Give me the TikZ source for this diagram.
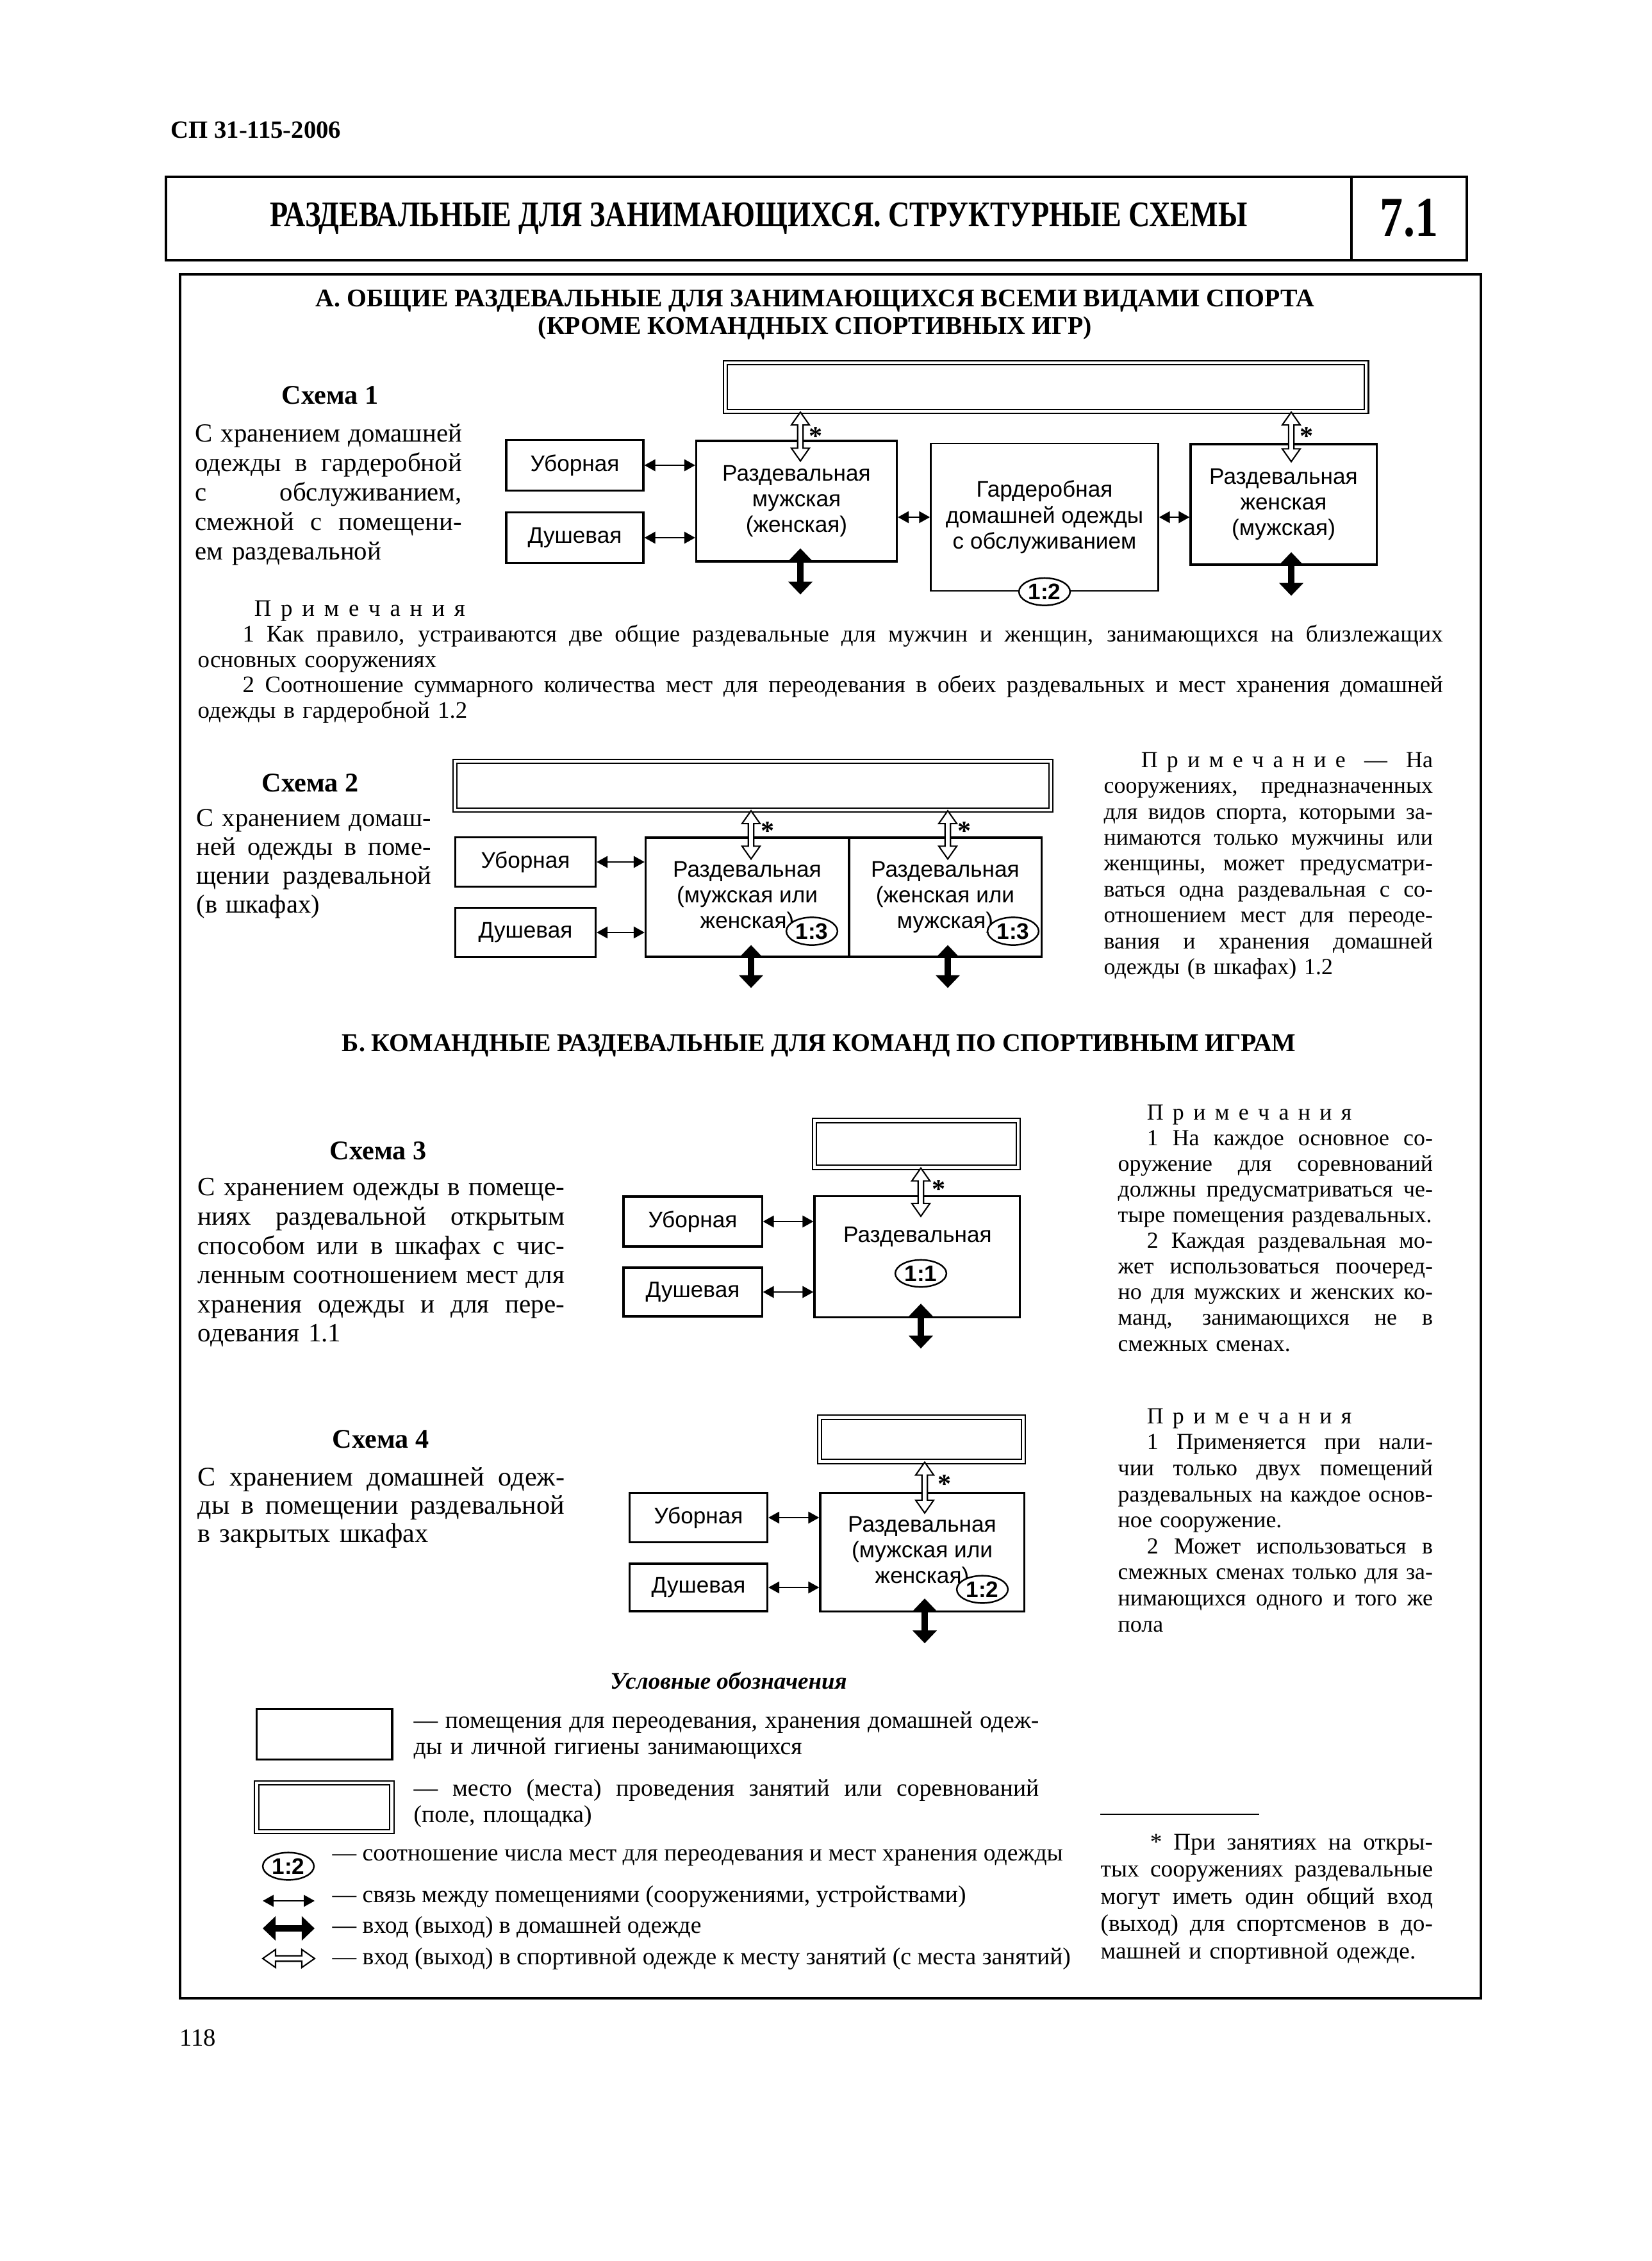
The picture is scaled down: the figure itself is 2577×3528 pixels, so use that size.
\documentclass[tikz,border=0pt]{standalone}
\usepackage{fontspec}
\setmainfont{Liberation Serif}
\newfontfamily\boxfont{Liberation Sans}
\newfontfamily\headfont[FakeStretch=0.82]{Liberation Serif}
\usetikzlibrary{arrows.meta,calc,shapes.geometric}

% justified line, justified line with indent, letter spacing
\newlength{\jlw}
\newcommand{\jl}[1]{\makebox[\jlw][s]{\spaceskip=0.25em plus 2em minus 0.05em\relax#1}\\}
\newcommand{\jli}[2][1.5em]{\hspace*{#1}\makebox[\dimexpr\jlw-#1\relax][s]{\spaceskip=0.25em plus 2em minus 0.05em\relax#2}\\}
\newcommand{\ls}{\hspace{0.4em}}
% hollow double arrow (exit in sports clothes)
\newcommand{\sportarrow}[2]{%
  \coordinate (sa1) at ($(#1)!5.7pt!(#2)$);
  \coordinate (sa2) at ($(#2)!5.7pt!(#1)$);
  \filldraw[sport] (#1) -- ($(sa1)!4pt!90:(#1)$) -- ($(sa1)!1.2pt!90:(#1)$)
    -- ($(sa2)!1.2pt!-90:(#2)$) -- ($(sa2)!4pt!-90:(#2)$) -- (#2)
    -- ($(sa2)!4pt!90:(#2)$) -- ($(sa2)!1.2pt!90:(#2)$)
    -- ($(sa1)!1.2pt!-90:(#1)$) -- ($(sa1)!4pt!-90:(#1)$) -- cycle;}

\begin{document}
\begin{tikzpicture}[x=0.01cm,y=-0.01cm,
  frame/.style={line width=0.9pt},
  room/.style={draw,line width=0.9pt,align=center,inner sep=2pt,
    font=\boxfont\fontsize{10}{11.5}\selectfont},
  roomtext/.style={inner sep=0pt,font=\boxfont\fontsize{10}{11.5}\selectfont},
  field/.style={draw,double,line width=0.6pt,double distance=1.2pt},
  ratio/.style={draw,ellipse,line width=0.7pt,fill=white,inner sep=0.8pt,
    font=\boxfont\bfseries\fontsize{10}{10}\selectfont},
  link/.style={line width=0.6pt,{Triangle[length=4.8pt,width=5.2pt]}-{Triangle[length=4.8pt,width=5.2pt]}},
  entry/.style={line width=2.8pt,{Triangle[length=5.7pt,width=10.5pt]}-{Triangle[length=5.7pt,width=10.5pt]}},
  sport/.style={draw,fill=white,line width=0.6pt},
  star/.style={inner sep=0pt,font=\bfseries\fontsize{12}{12}\selectfont},
  scheme/.style={inner sep=0pt,font=\bfseries\fontsize{12}{12}\selectfont},
  head/.style={inner sep=0pt,align=center,font=\bfseries\fontsize{11.3}{12.2}\selectfont},
  jw/.code={\setlength{\jlw}{#1}},
  para/.style={anchor=north west,inner sep=0pt,align=left,text width=#1,jw=#1},
  legend/.style={anchor=west,inner sep=0pt,font=\fontsize{10.7}{11.7}\selectfont}]
\useasboundingbox (0,0) rectangle (2577,3528);

% page head and frames
\node[anchor=west,inner sep=0pt,font=\bfseries\fontsize{11}{11}\selectfont] (code) at (266,203) {СП 31-115-2006};
\draw[frame] (259,276) rectangle (2289,406);
\draw[frame] (2109,276) -- (2109,406);
\node[inner sep=0pt,font=\headfont\bfseries\fontsize{16}{16}\selectfont] (title) at (1184,341) {РАЗДЕВАЛЬНЫЕ ДЛЯ ЗАНИМАЮЩИХСЯ. СТРУКТУРНЫЕ СХЕМЫ};
\node[inner sep=0pt,font=\headfont\bfseries\fontsize{25}{25}\selectfont] (num) at (2199,340) {7.1};
\draw[frame] (281,428) rectangle (2311,3118);

\node[head] (secA) at (1272,491) {А. ОБЩИЕ РАЗДЕВАЛЬНЫЕ ДЛЯ ЗАНИМАЮЩИХСЯ ВСЕМИ ВИДАМИ СПОРТА\\(КРОМЕ КОМАНДНЫХ СПОРТИВНЫХ ИГР)};

% scheme 1
\node[scheme] (sch1) at (515,617) {Схема 1};
\node[para=4.16cm,font=\fontsize{11.6}{13.1}\selectfont] (desc1) at (304,661) {%
\jl{С хранением домашней}\jl{одежды в гардеробной}\jl{с обслуживанием,}\jl{смежной с помещени-}ем раздевальной};

\node[field,minimum width=10cm,minimum height=0.76cm] (fieldA) at (1632,604) {};
\node[room,minimum width=2.14cm,minimum height=0.79cm] (ubA) at (897,726) {Уборная};
\node[room,minimum width=2.14cm,minimum height=0.79cm] (dushA) at (897,839) {Душевая};
\node[room,minimum width=3.13cm,minimum height=1.88cm] (razdA) at (1243,782) {Раздевальная\\мужская\\(женская)};
\node[room,minimum width=3.55cm,minimum height=2.30cm,line width=0.7pt] (gardA) at (1630,807) {Гардеробная\\домашней одежды\\с обслуживанием};
\node[room,minimum width=2.90cm,minimum height=1.88cm] (razdB) at (2003,787) {Раздевальная\\женская\\(мужская)};
\node[ratio] (ovA) at (gardA.south) {1:2};

\draw[link] (ubA.east) -- (ubA.east -| razdA.west);
\draw[link] (dushA.east) -- (dushA.east -| razdA.west);
\draw[link] (razdA.east |- gardA.west) -- (gardA.west);
\draw[link] (gardA.east) -- (gardA.east -| razdB.west);

\coordinate (s1t) at ($(fieldA.south -| razdA.north)+(6,0)$);
\coordinate (s1b) at ($(razdA.north)+(6,33)$);
\sportarrow{s1t}{s1b}
\node[star] (st1) at ($(s1t)+(24,38)$) {*};
\coordinate (s2t) at ($(fieldA.south -| razdB.north)+(12,0)$);
\coordinate (s2b) at ($(razdB.north)+(12,29)$);
\sportarrow{s2t}{s2b}
\node[star] (st2) at ($(s2t)+(24,38)$) {*};
\draw[entry] ($(razdA.south)+(6,-22)$) -- ($(razdA.south)+(6,50)$);
\draw[entry] ($(razdB.south)+(12,-21)$) -- ($(razdB.south)+(12,47)$);

\node[para=19.42cm,font=\fontsize{10.5}{11.25}\selectfont] (note1) at (308,937) {%
\hspace*{0.88cm}П\ls р\ls и\ls м\ls е\ls ч\ls а\ls н\ls и\ls я\\
\jli[0.7cm]{1 Как правило, устраиваются две общие раздевальные для мужчин и женщин, занимающихся на близлежащих}
основных сооружениях\\
\jli[0.7cm]{2 Соотношение суммарного количества мест для переодевания в обеих раздевальных и мест хранения домашней}
одежды в гардеробной 1.2};

% scheme 2
\node[scheme] (sch2) at (484,1222) {Схема 2};
\node[para=3.66cm,font=\fontsize{11.5}{12.8}\selectfont] (desc2) at (306,1262) {%
\jl{С хранением домаш-}\jl{ней одежды в поме-}\jl{щении раздевальной}(в шкафах)};

\node[field,minimum width=9.29cm,minimum height=0.76cm] (fieldB) at (1175,1226) {};
\node[room,minimum width=2.19cm,minimum height=0.77cm] (ubB) at (820,1345) {Уборная};
\node[room,minimum width=2.19cm,minimum height=0.77cm] (dushB) at (820,1455) {Душевая};
\node[room,minimum width=3.17cm,minimum height=1.86cm] (razdCl) at (1166,1400) {Раздевальная\\(мужская или\\женская)};
\node[room,minimum width=3.00cm,minimum height=1.86cm] (razdCr) at (1475,1400) {Раздевальная\\(женская или\\мужская)};
\node[ratio] (ovB1) at (1267,1453) {1:3};
\node[ratio] (ovB2) at (1581,1453) {1:3};

\draw[link] (ubB.east) -- (ubB.east -| razdCl.west);
\draw[link] (dushB.east) -- (dushB.east -| razdCl.west);

\coordinate (s3t) at ($(fieldB.south -| razdCl.north)+(6,0)$);
\coordinate (s3b) at ($(razdCl.north)+(6,35)$);
\sportarrow{s3t}{s3b}
\node[star] (st3) at ($(s3t)+(26,31)$) {*};
\coordinate (s4t) at ($(fieldB.south -| razdCr.north)+(4,0)$);
\coordinate (s4b) at ($(razdCr.north)+(4,35)$);
\sportarrow{s4t}{s4b}
\node[star] (st4) at ($(s4t)+(26,31)$) {*};
\draw[entry] ($(razdCl.south)+(6,-20)$) -- ($(razdCl.south)+(6,47)$);
\draw[entry] ($(razdCr.south)+(4,-20)$) -- ($(razdCr.south)+(4,47)$);

\node[para=5.13cm,font=\fontsize{10.2}{11.5}\selectfont] (note2) at (1722,1173) {%
\jli[0.58cm]{П\ls р\ls и\ls м\ls е\ls ч\ls а\ls н\ls и\ls е — На}
\jl{сооружениях, предназначенных}
\jl{для видов спорта, которыми за-}
\jl{нимаются только мужчины или}
\jl{женщины, может предусматри-}
\jl{ваться одна раздевальная с со-}
\jl{отношением мест для переоде-}
\jl{вания и хранения домашней}
одежды (в шкафах) 1.2};

\node[head] (secB) at (1278,1632) {Б. КОМАНДНЫЕ РАЗДЕВАЛЬНЫЕ ДЛЯ КОМАНД ПО СПОРТИВНЫМ ИГРАМ};

% scheme 3
\node[scheme] (sch3) at (590,1796) {Схема 3};
\node[para=5.72cm,font=\fontsize{11.7}{12.95}\selectfont] (desc3) at (308,1838) {%
\jl{С хранением одежды в помеще-}\jl{ниях раздевальной открытым}\jl{способом или в шкафах с чис-}%
\jl{ленным соотношением мест для}\jl{хранения одежды и для пере-}одевания 1.1};

\node[field,minimum width=3.18cm,minimum height=0.73cm] (fieldC) at (1430,1785) {};
\node[room,minimum width=2.16cm,minimum height=0.78cm] (ubC) at (1081,1906) {Уборная};
\node[room,minimum width=2.16cm,minimum height=0.76cm] (dushC) at (1081,2016) {Душевая};
\node[room,minimum width=3.20cm,minimum height=1.89cm] (razdD) at (1431,1961) {};
\node[roomtext] (razdDt) at (1432,1930) {Раздевальная};
\node[ratio] (ovC) at (1437,1987) {1:1};

\draw[link] (ubC.east) -- (ubC.east -| razdD.west);
\draw[link] (dushC.east) -- (dushC.east -| razdD.west);

\coordinate (s5t) at ($(fieldC.south -| razdD.north)+(6,0)$);
\coordinate (s5b) at ($(razdD.north)+(6,33)$);
\sportarrow{s5t}{s5b}
\node[star] (st5) at ($(s5t)+(28,33)$) {*};
\draw[entry] ($(razdD.south)+(6,-23)$) -- ($(razdD.south)+(6,47)$);

\node[para=4.91cm,font=\fontsize{10.2}{11.4}\selectfont] (note3) at (1744,1723) {%
\hspace*{0.45cm}П\ls р\ls и\ls м\ls е\ls ч\ls а\ls н\ls и\ls я\\
\jli[0.45cm]{1 На каждое основное со-}
\jl{оружение для соревнований}
\jl{должны предусматриваться че-}
тыре помещения раздевальных.\\
\jli[0.45cm]{2 Каждая раздевальная мо-}
\jl{жет использоваться поочеред-}
\jl{но для мужских и женских ко-}
\jl{манд, занимающихся не в}
смежных сменах.};

% scheme 4
\node[scheme] (sch4) at (594,2246) {Схема 4};
\node[para=5.72cm,font=\fontsize{12}{12.5}\selectfont] (desc4) at (308,2289) {%
\jl{С хранением домашней одеж-}\jl{ды в помещении раздевальной}в закрытых шкафах};

\node[field,minimum width=3.18cm,minimum height=0.69cm] (fieldD) at (1438,2246) {};
\node[room,minimum width=2.15cm,minimum height=0.77cm] (ubD) at (1090,2368) {Уборная};
\node[room,minimum width=2.15cm,minimum height=0.74cm] (dushD) at (1090,2477) {Душевая};
\node[room,minimum width=3.18cm,minimum height=1.85cm] (razdE) at (1439,2422) {Раздевальная\\(мужская или\\женская)};
\node[ratio] (ovD) at (1533,2480) {1:2};

\draw[link] (ubD.east) -- (ubD.east -| razdE.west);
\draw[link] (dushD.east) -- (dushD.east -| razdE.west);

\coordinate (s6t) at ($(fieldD.south -| razdE.north)+(4,0)$);
\coordinate (s6b) at ($(razdE.north)+(4,33)$);
\sportarrow{s6t}{s6b}
\node[star] (st6) at ($(s6t)+(31,34)$) {*};
\draw[entry] ($(razdE.south)+(4,-22)$) -- ($(razdE.south)+(4,48)$);

\node[para=4.91cm,font=\fontsize{10.2}{11.55}\selectfont] (note4) at (1744,2197) {%
\hspace*{0.45cm}П\ls р\ls и\ls м\ls е\ls ч\ls а\ls н\ls и\ls я\\
\jli[0.45cm]{1 Применяется при нали-}
\jl{чии только двух помещений}
\jl{раздевальных на каждое основ-}
ное сооружение.\\
\jli[0.45cm]{2 Может использоваться в}
\jl{смежных сменах только для за-}
\jl{нимающихся одного и того же}
пола};

% legend
\node[inner sep=0pt,font=\bfseries\itshape\fontsize{10.5}{10.5}\selectfont] (legTitle) at (1137,2622) {Условные обозначения};
\node[room,minimum width=2.11cm,minimum height=0.79cm,line width=1.1pt] (legRoom) at (506,2706) {};
\node[field,minimum width=2.11cm,minimum height=0.76cm] (legField) at (506,2820) {};
\node[ratio] (legRatio) at (450,2912) {1:2};
\coordinate (lg1a) at (410,2966);
\coordinate (lg1b) at (491,2966);
\coordinate (lg2a) at (410,3009);
\coordinate (lg2b) at (491,3009);
\coordinate (lg3a) at (410,3056);
\coordinate (lg3b) at (491,3056);
\draw[link] (lg1a) -- (lg1b);
\draw[entry] (lg2a) -- (lg2b);
\sportarrow{lg3a}{lg3b}

\node[para=9.75cm,font=\fontsize{10.7}{11.7}\selectfont] (legT1) at (645,2670) {%
\jl{— помещения для переодевания, хранения домашней одеж-}ды и личной гигиены занимающихся};
\node[para=9.75cm,font=\fontsize{10.7}{11.7}\selectfont] (legT2) at (645,2776) {%
\jl{— место (места) проведения занятий или соревнований}(поле, площадка)};
\node[legend] (legT3) at (518,2899) {— соотношение числа мест для переодевания и мест хранения одежды};
\node[legend] (legT4) at (518,2959) {— связь между помещениями (сооружениями, устройствами)};
\node[legend] (legT5) at (518,3007) {— вход (выход) в домашней одежде};
\node[legend] (legT6) at (518,3056) {— вход (выход) в спортивной одежде к месту занятий (с места занятий)};

% footnote
\draw (1717,2831) -- (1965,2831);
\node[para=5.18cm,font=\fontsize{10.6}{12.1}\selectfont] (foot) at (1717,2861) {%
\jli[0.77cm]{* При занятиях на откры-}
\jl{тых сооружениях раздевальные}
\jl{могут иметь один общий вход}
\jl{(выход) для спортсменов в до-}
машней и спортивной одежде.};

\node[inner sep=0pt,font=\fontsize{11}{11}\selectfont] (page) at (309,3180) {118};
\end{tikzpicture}
\end{document}
